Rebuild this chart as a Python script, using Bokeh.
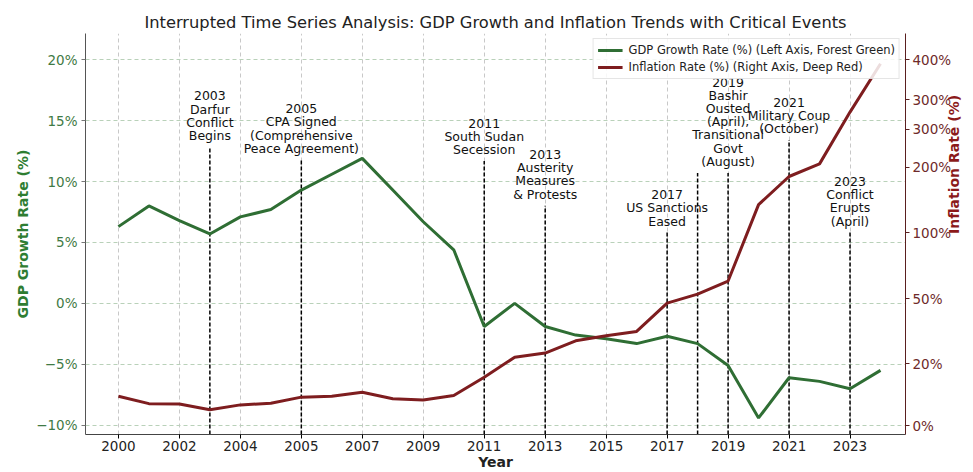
import math
import numpy as np
from bokeh.plotting import figure
from bokeh.models import (Range1d, LinearAxis, FixedTicker, Label, Legend, LegendItem)
from bokeh.embed import file_html
from bokeh.resources import INLINE

# ---- data (one slot per observation along x) ----
X_POS = list(range(26))
X_TICK_POS = [0, 2, 4, 6, 8, 10, 12, 14, 16, 18, 20, 22, 24]
X_TICK_LABELS = ["2000", "2002", "2004", "2005", "2007", "2009", "2011",
                 "2013", "2015", "2017", "2019", "2021", "2023"]

gdp_growth = [6.3, 8.0, 6.8, 5.7, 7.1, 7.7, 9.3, 10.6, 11.9, 9.3, 6.7, 4.4,
              -1.9, 0.0, -1.9, -2.6, -2.9, -3.3, -2.7, -3.3, -5.1, -9.4,
              -6.1, -6.4, -7.0, -5.5]
inflation = [9.6, 7.2, 7.1, 5.2, 6.8, 7.3, 9.3, 9.6, 10.9, 8.8, 8.4, 9.8,
             15.7, 23.1, 25.0, 30.6, 32.9, 34.9, 47.9, 53.3, 63.3, 142.9,
             185.8, 208.7, 329.0, 395.0]

GDP_TICKS = [-10, -5, 0, 5, 10, 15, 20]
GDP_TICK_LABELS = ["\u221210%", "\u22125%", "0%", "5%", "10%", "15%", "20%"]

INFL_TICK_VALUES = [0, 20, 50, 100, 200, 300, 350, 400]
INFL_TICK_LABELS = ["0%", "20%", "50%", "100%", "200%", "300%", "300%", "400%"]
# custom (symlog-like) scale of the right axis: where each tick value sits
INFL_SCALE_POS = [-10.06, -4.97, 0.40, 5.79, 11.18, 14.28, 16.73, 20.0]

EVENT_X = [3, 6, 12, 14, 18, 19, 20, 22, 24]
EVENT_TOP = [12.84, 11.78, 11.69, 8.02, 5.81, 10.71, 10.71, 13.41, 5.81]
EVENT_TEXT = [
    "2003\nDarfur\nConflict\nBegins",
    "2005\nCPA Signed\n(Comprehensive\nPeace Agreement)",
    "2011\nSouth Sudan\nSecession",
    "2013\nAusterity\nMeasures\n& Protests",
    "2017\nUS Sanctions\nEased",
    "",
    "2019\nBashir\nOusted\n(April),\nTransitional\nGovt\n(August)",
    "2021\nMilitary Coup\n(October)",
    "2023\nConflict\nErupts\n(April)",
]

GREEN = "#2f6e34"
RED = "#7e1d1f"

YMIN, YMAX = -10.76, 22.15
XMIN, XMAX = -1.08, 25.82

p = figure(width=973, height=472, output_backend="svg", toolbar_location=None,
           x_range=Range1d(XMIN, XMAX), y_range=Range1d(YMIN, YMAX),
           min_border_left=85, min_border_right=65, min_border_top=33,
           min_border_bottom=36)
p.extra_y_ranges = {"infl": Range1d(YMIN, YMAX)}

p.title.text = "Interrupted Time Series Analysis: GDP Growth and Inflation Trends with Critical Events"
p.title.align = "center"
p.title.text_font = "DejaVu Sans"
p.title.text_font_size = "16.3px"
p.title.text_font_style = "normal"
p.title.text_color = "#222222"
p.title.standoff = 4

p.outline_line_color = None
p.background_fill_color = "white"
p.border_fill_color = "white"

# grids
p.xgrid.ticker = FixedTicker(ticks=X_TICK_POS)
p.xgrid.grid_line_color = "#c8c8c8"
p.xgrid.grid_line_dash = "4 3"
p.xgrid.grid_line_width = 1
p.ygrid.ticker = FixedTicker(ticks=GDP_TICKS)
p.ygrid.grid_line_color = "#b9d1b9"
p.ygrid.grid_line_dash = "4 3"
p.ygrid.grid_line_width = 1

# x axis
xa = p.xaxis[0]
xa.ticker = FixedTicker(ticks=X_TICK_POS)
xa.major_label_overrides = {t: l for t, l in zip(X_TICK_POS, X_TICK_LABELS)}
xa.axis_label = "Year"
xa.axis_label_text_font = "DejaVu Sans"
xa.axis_label_text_font_style = "bold"
xa.axis_label_text_font_size = "14px"
xa.axis_label_text_color = "#222222"
xa.axis_label_standoff = 0
xa.major_label_text_font = "DejaVu Sans"
xa.major_label_text_font_size = "13.5px"
xa.major_label_text_color = "#222222"
xa.major_label_standoff = 2
xa.minor_tick_line_color = None
xa.major_tick_out = 4
xa.major_tick_in = 0
xa.axis_line_color = "#444444"

# left axis
ya = p.yaxis[0]
ya.ticker = FixedTicker(ticks=GDP_TICKS)
ya.major_label_overrides = {t: l for t, l in zip(GDP_TICKS, GDP_TICK_LABELS)}
ya.axis_label = "GDP Growth Rate (%)"
ya.axis_label_text_font = "DejaVu Sans"
ya.axis_label_text_font_style = "bold"
ya.axis_label_text_font_size = "14px"
ya.axis_label_text_color = "#2e7d32"
ya.axis_label_standoff = 2
ya.major_label_text_font = "DejaVu Sans"
ya.major_label_text_font_size = "13.5px"
ya.major_label_text_color = "#3f7a45"
ya.major_label_standoff = 4
ya.minor_tick_line_color = None
ya.major_tick_out = 4
ya.major_tick_in = 0
ya.axis_line_color = "#555555"
ya.major_tick_line_color = "#777777"

# right axis
ra = LinearAxis(y_range_name="infl", ticker=FixedTicker(ticks=INFL_SCALE_POS))
ra.major_label_overrides = {t: l for t, l in zip(INFL_SCALE_POS, INFL_TICK_LABELS)}
ra.axis_label = "Inflation Rate (%)"
ra.axis_label_orientation = math.pi / 2
ra.axis_label_text_font = "DejaVu Sans"
ra.axis_label_text_font_style = "bold"
ra.axis_label_text_font_size = "14px"
ra.axis_label_text_color = "#8b1a1a"
ra.axis_label_standoff = 0
ra.major_label_text_font = "DejaVu Sans"
ra.major_label_text_font_size = "13.5px"
ra.major_label_text_color = "#6e2a2a"
ra.major_label_standoff = 3
ra.minor_tick_line_color = None
ra.major_tick_out = 4
ra.major_tick_in = 0
ra.axis_line_color = "#5a1f1f"
ra.major_tick_line_color = "#5a1f1f"
p.add_layout(ra, "right")

# event lines
p.segment(x0=EVENT_X, y0=[YMIN] * len(EVENT_X), x1=EVENT_X, y1=EVENT_TOP,
          line_color="black", line_dash="4 2", line_width=1.5)

# data lines
r_gdp = p.line(X_POS, gdp_growth, line_color=GREEN, line_width=3)
infl_pos = np.interp(inflation, INFL_TICK_VALUES, INFL_SCALE_POS)
r_inf = p.line(X_POS, infl_pos, line_color=RED, line_width=3, y_range_name="infl")

# event labels: white boxes first, then all texts on top
label_style = dict(text_align="center", text_baseline="bottom", y_offset=4,
                   text_font="DejaVu Sans", text_font_size="12.5px",
                   text_line_height=0.88)
for ex, ey, txt in zip(EVENT_X, EVENT_TOP, EVENT_TEXT):
    if txt:
        p.add_layout(Label(x=ex, y=ey, text=txt, text_alpha=0.0,
                           background_fill_color="white",
                           background_fill_alpha=0.9, **label_style))
for ex, ey, txt in zip(EVENT_X, EVENT_TOP, EVENT_TEXT):
    if txt:
        p.add_layout(Label(x=ex, y=ey, text=txt, text_color="#111111",
                           **label_style))

legend = Legend(items=[
    LegendItem(label="GDP Growth Rate (%) (Left Axis, Forest Green)", renderers=[r_gdp]),
    LegendItem(label="Inflation Rate (%) (Right Axis, Deep Red)", renderers=[r_inf]),
], location="top_right")
legend.label_text_font = "DejaVu Sans"
legend.label_text_font_size = "11.5px"
legend.label_text_color = "#222222"
legend.glyph_width = 25
legend.glyph_height = 12
legend.label_height = 12
legend.label_standoff = 6
legend.spacing = 3
legend.padding = 4
legend.margin = 5
legend.border_line_color = "#cccccc"
legend.background_fill_alpha = 0.85
p.add_layout(legend)

open("out.html", "w").write(file_html(p, INLINE))
